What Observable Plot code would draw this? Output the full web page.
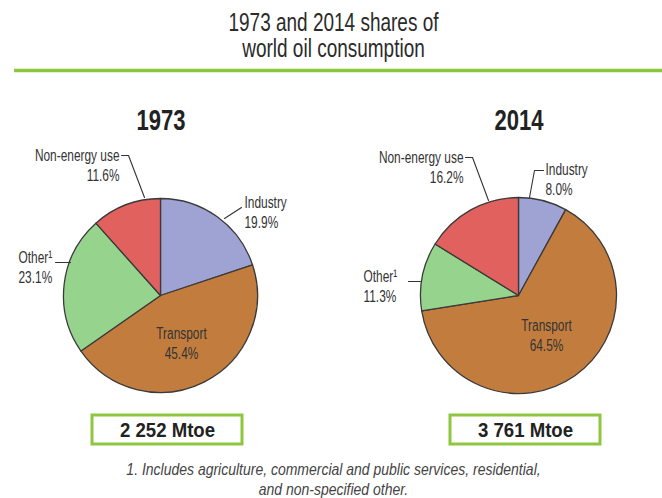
<!DOCTYPE html>
<html>
<head>
<meta charset="utf-8">
<script src="https://cdn.jsdelivr.net/npm/d3@7"></script>
<script src="https://cdn.jsdelivr.net/npm/@observablehq/plot@0.6"></script>
<style>
  html, body { margin: 0; padding: 0; background: #fff; }
  #chart svg { display: block; }
</style>
</head>
<body>
<div id="chart"></div>
<script>
// ---- data ----
const sectors = ["Industry", "Transport", "Other¹", "Non-energy use"];
const shares1973 = [19.9, 45.4, 23.1, 11.6];
const shares2014 = [8.0, 64.5, 11.3, 16.2];
const years = ["1973", "2014"];
const totals = ["2 252 Mtoe", "3 761 Mtoe"];
const sectorColors = ["#9fa3d4", "#c27d3e", "#96d48e", "#e0615d"];
const titleLines = ["1973 and 2014 shares of", "world oil consumption"];
const footnoteLines = [
  "1. Includes agriculture, commercial and public services, residential,",
  "and non-specified other."
];

// ---- layout (pixel space; x/y scales are identity) ----
const W = 662, H = 498;
const FONT = "'Liberation Sans', Arial, sans-serif";
// font size -> horizontal condensing factor (mimics the narrow typeface)
const SIZES = {title: 25, year: 29, label: 17, box: 20, note: 16};
const CONDENSE = {25: 0.76, 29: 0.76, 17: 0.70, 20: 0.93, 16: 0.875};
const pies = [{cx: 160.5, cy: 295.5, r: 97}, {cx: 518.5, cy: 295.5, r: 98}];
const labelLayout = [
  [ // 1973: Industry, Transport, Other, Non-energy
    {x: 244, y: 211, anchor: "start", leader: [[224, 218], [241, 207]]},
    {x: 181, y: 342, anchor: "middle", leader: null},
    {x: 18, y: 266, anchor: "start", leader: [[55, 262], [70, 262]]},
    {x: 119, y: 164, anchor: "end", leader: [[121, 155], [128, 155], [144, 197]]}
  ],
  [ // 2014
    {x: 545, y: 178, anchor: "start", leader: [[543, 170], [534, 170], [529, 197]]},
    {x: 546, y: 334, anchor: "middle", leader: null},
    {x: 363, y: 285, anchor: "start", leader: [[408, 281], [421, 281]]},
    {x: 463, y: 166, anchor: "end", leader: [[465, 157], [472, 157], [488, 200]]}
  ]
];
const yearLabelY = 120;
const boxes = [{x1: 92, x2: 242}, {x1: 450, x2: 600}];
const boxY = [415, 444];

// ---- derived tables ----
const shareSets = [shares1973, shares2014];
const labelRows = [];
const leaderRows = [];
shareSets.forEach((vals, p) => {
  vals.forEach((v, i) => {
    const L = labelLayout[p][i];
    labelRows.push({x: L.x, y: L.y, anchor: L.anchor, text: `${sectors[i]}\n${v.toFixed(1)}%`});
    if (L.leader) L.leader.forEach(([x, y]) => leaderRows.push({x, y, id: `${p}-${i}`}));
  });
});
const yearRows = years.map((y, i) => ({x: pies[i].cx, y: yearLabelY, text: y}));
const boxRows = totals.map((t, i) => ({x1: boxes[i].x1, x2: boxes[i].x2, y1: boxY[0], y2: boxY[1], text: t, xm: (boxes[i].x1 + boxes[i].x2) / 2, ym: (boxY[0] + boxY[1]) / 2 + 1}));

function pieMark(values, pie) {
  return (index, scales) => {
    const cx = scales.x(pie.cx), cy = scales.y(pie.cy);
    const r = scales.x(pie.cx + pie.r) - cx;
    const arcs = d3.pie().sort(null).value(d => d)(values);
    const arc = d3.arc().innerRadius(0).outerRadius(r);
    const g = d3.create("svg:g").attr("transform", `translate(${cx},${cy})`);
    g.selectAll("path").data(arcs).join("path")
      .attr("d", arc)
      .attr("fill", (d, i) => sectorColors[i])
      .attr("stroke", "#3a3a3a")
      .attr("stroke-width", 1.3)
      .attr("stroke-linejoin", "round");
    return g.node();
  };
}

const labelMark = (anchor) => Plot.text(labelRows.filter(d => d.anchor === anchor), {
  x: "x", y: "y", text: "text", textAnchor: anchor, fontSize: SIZES.label, lineHeight: 20 / SIZES.label, fill: "#333"
});

const chart = Plot.plot({
  width: W, height: H, margin: 0,
  x: {domain: [0, W], range: [0, W], axis: null},
  y: {domain: [0, H], range: [0, H], axis: null},
  style: {background: "#fff", fontFamily: FONT},
  marks: [
    // title
    Plot.text([{x: 333, y: 35, t: titleLines.join("\n")}], {x: "x", y: "y", text: "t", fontSize: SIZES.title, lineHeight: 26 / SIZES.title, fill: "#2b2b2b"}),
    Plot.ruleY([{y: 70, x1: 14, x2: W}], {y: "y", x1: "x1", x2: "x2", stroke: "#8dc63f", strokeWidth: 3.5}),
    // year labels
    Plot.text(yearRows, {x: "x", y: "y", text: "text", fontSize: SIZES.year, fontWeight: "bold", fill: "#222"}),
    // pies
    pieMark(shares1973, pies[0]),
    pieMark(shares2014, pies[1]),
    // leaders
    Plot.line(leaderRows, {x: "x", y: "y", z: "id", stroke: "#333", strokeWidth: 1.1, curve: "linear"}),
    // labels
    labelMark("start"),
    labelMark("middle"),
    labelMark("end"),
    // totals boxes
    Plot.rect(boxRows, {x1: "x1", x2: "x2", y1: "y1", y2: "y2", fill: "#fff", stroke: "#8dc63f", strokeWidth: 3}),
    Plot.text(boxRows, {x: "xm", y: "ym", text: "text", fontSize: SIZES.box, fontWeight: "bold", fill: "#222"}),
    // footnote
    Plot.text([{x: 333, y: 478, t: footnoteLines.join("\n")}], {x: "x", y: "y", text: "t", fontSize: SIZES.note, fontStyle: "italic", lineHeight: 20 / SIZES.note, fill: "#444"})
  ]
});
// condense texts horizontally around their anchor point
d3.select(chart).selectAll("text").each(function() {
  const holder = this.closest("[font-size]");
  const fs = holder ? parseFloat(holder.getAttribute("font-size")) : NaN;
  const k = CONDENSE[fs];
  if (!k) return;
  const t = this.getAttribute("transform") || "";
  this.setAttribute("transform", `${t} scale(${k},1)`);
});
document.getElementById("chart").appendChild(chart);
</script>
</body>
</html>
